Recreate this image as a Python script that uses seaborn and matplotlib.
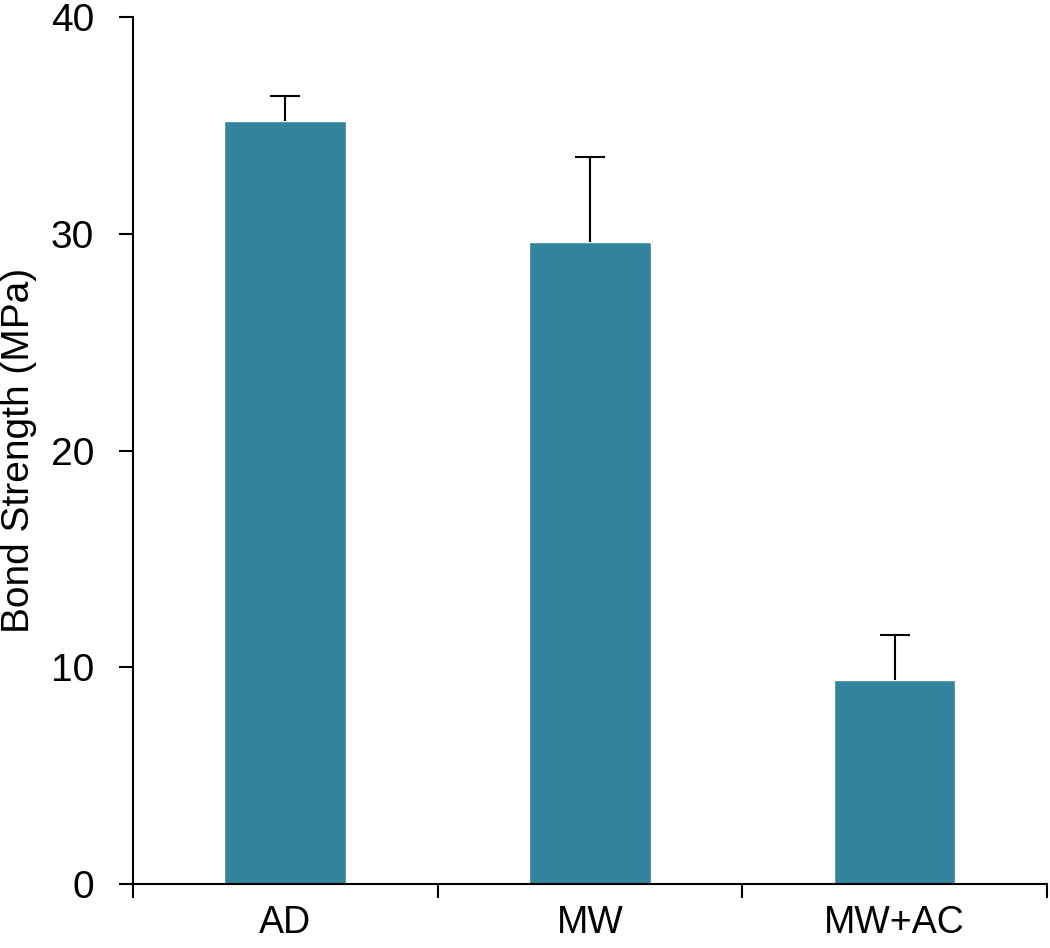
import seaborn as sns
import matplotlib.pyplot as plt
import numpy as np
import pandas as pd

groups = ["AD", "MW", "MW+AC"]
means = [35.2, 29.6, 9.4]
sd = [1.15, 3.95, 2.1]

df = pd.DataFrame({"group": groups, "strength": means})

sns.set_style("ticks")
plt.rcParams['font.family'] = ['Liberation Sans', 'DejaVu Sans']
plt.rcParams['text.color'] = 'black'
plt.rcParams['axes.labelcolor'] = 'black'
plt.rcParams['xtick.color'] = 'black'
plt.rcParams['ytick.color'] = 'black'
plt.rcParams['axes.edgecolor'] = 'black'

fig = plt.figure(figsize=(10.5, 9.48), dpi=100)
ax = fig.add_axes([0.1267, 0.0675, 0.8703, 0.9145])

sns.barplot(data=df, x="group", y="strength", color="#31849b",
            saturation=1, width=0.4, errorbar=None, ax=ax)
eb = ax.errorbar(np.arange(len(groups)), means,
                 yerr=[np.zeros(len(sd)), sd],
                 fmt="none", ecolor="black", elinewidth=1.5, capsize=11,
                 capthick=1.5)
# only the upper cap is shown
eb[1][0].set_visible(False)

ax.set_xlim(-0.5, 2.5)
ax.set_ylim(0, 40)
ax.set_yticks([0, 10, 20, 30, 40])
ax.set_xlabel("")
ax.set_ylabel("Bond Strength (MPa)", fontsize=28, labelpad=10)

# category labels centred, tick marks at the boundaries
ax.set_xticks(np.arange(-0.5, 3.0, 1.0), minor=True)
ax.tick_params(axis="x", which="major", length=0, pad=15, labelsize=27)
ax.tick_params(axis="x", which="minor", length=10, width=1.5, direction="out")
ax.tick_params(axis="y", length=10, width=1.5, pad=18, labelsize=28)

for side in ["top", "right"]:
    ax.spines[side].set_visible(False)
for side in ["left", "bottom"]:
    ax.spines[side].set_linewidth(1.5)

plt.savefig("out.png", dpi=100)
plt.close()
